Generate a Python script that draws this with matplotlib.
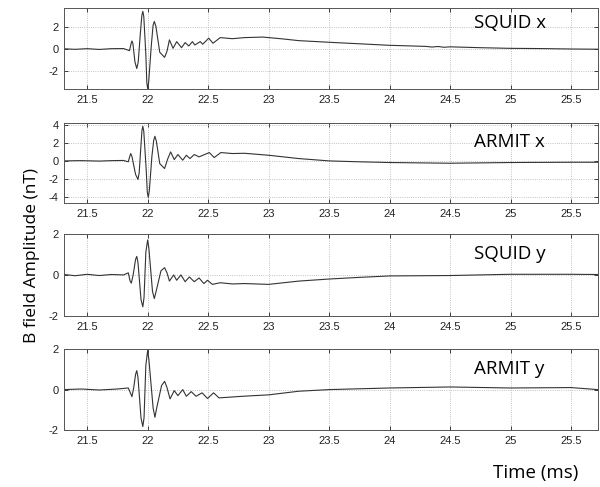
import matplotlib
matplotlib.use("Agg")
import matplotlib.pyplot as plt
from matplotlib.ticker import FormatStrFormatter

# time axis (ms) and B field traces (nT) for each sensor/component
t_squid_x = [21.31, 21.4, 21.5, 21.6, 21.7, 21.8, 21.85, 21.862, 21.87, 21.878,
             21.895, 21.91, 21.922, 21.94, 21.952, 21.96, 21.968, 21.985, 21.993, 22.0,
             22.008, 22.03, 22.045, 22.055, 22.068, 22.1, 22.14, 22.16, 22.18, 22.21,
             22.24, 22.28, 22.31, 22.34, 22.37, 22.39, 22.435, 22.455, 22.505, 22.54,
             22.60, 22.7, 22.8, 22.95, 23.1, 23.25, 23.5, 23.75, 24.0, 24.3,
             24.35, 24.4, 24.45, 24.5, 24.75, 25.0, 25.25, 25.5, 25.72]
b_squid_x = [0.02, -0.03, 0.03, -0.04, 0.03, 0.04, -0.15, 0.45, 0.74, 0.5,
             -1.2, -1.8, -1.2, 1.5, 3.1, 3.47, 3.0, -0.5, -3.1, -3.65,
             -3.1, 0.3, 2.2, 2.54, 2.1, -0.3, -0.77, -0.2, 0.84, 0.06,
             0.68, 0.12, 0.59, 0.28, 0.68, 0.37, 0.68, 0.44, 1.0, 0.53,
             1.05, 0.95, 1.05, 1.1, 0.95, 0.77, 0.62, 0.48, 0.34, 0.24,
             0.18, 0.23, 0.16, 0.2, 0.12, 0.06, 0.04, 0.0, -0.02]

t_armit_x = [21.31, 21.45, 21.6, 21.7, 21.8, 21.84, 21.852, 21.86, 21.87, 21.9,
             21.92, 21.93, 21.945, 21.953, 21.96, 21.968, 21.988, 21.997, 22.005, 22.014,
             22.035, 22.05, 22.06, 22.072, 22.1, 22.14, 22.165, 22.19, 22.22, 22.25,
             22.29, 22.32, 22.35, 22.385, 22.425, 22.51, 22.55, 22.605, 22.7, 22.8,
             23.0, 23.25, 23.5, 23.75, 24.0, 24.5, 25.0, 25.5, 25.72]
b_armit_x = [0.0, 0.03, -0.02, 0.03, 0.05, -0.1, 0.5, 0.82, 0.5, -1.5,
             -2.07, -1.3, 1.8, 3.4, 3.86, 3.3, -1.0, -3.5, -4.07, -3.3,
             0.5, 2.3, 2.74, 2.2, -0.3, -0.85, 0.2, 1.0, 0.15, 0.71,
             0.08, 0.63, 0.26, 0.71, 0.45, 0.93, 0.37, 0.93, 0.82, 0.85,
             0.63, 0.26, 0.0, -0.1, -0.18, -0.26, -0.18, -0.15, -0.15]

t_squid_y = [21.31, 21.4, 21.5, 21.6, 21.7, 21.8, 21.84, 21.855, 21.865, 21.88,
             21.9, 21.91, 21.92, 21.945, 21.96, 21.97, 21.985, 22.0, 22.01, 22.04,
             22.055, 22.07, 22.11, 22.14, 22.16, 22.18, 22.215, 22.24, 22.275, 22.31,
             22.345, 22.385, 22.425, 22.465, 22.495, 22.535, 22.6, 22.7, 22.8, 23.0,
             23.25, 23.5, 23.75, 24.0, 24.5, 25.0, 25.5, 25.72]
b_squid_y = [0.02, -0.04, 0.03, -0.03, 0.02, 0.0, 0.1, -0.3, -0.4, 0.0,
             0.75, 0.9, 0.6, -1.2, -1.55, -1.1, 1.1, 1.7, 1.3, -0.8,
             -1.15, -0.8, 0.2, 0.35, 0.1, -0.3, 0.0, -0.26, 0.0, -0.33,
             -0.1, -0.33, -0.15, -0.42, -0.26, -0.46, -0.38, -0.44, -0.42, -0.46,
             -0.3, -0.2, -0.12, -0.05, -0.03, 0.03, 0.03, 0.02]

t_armit_y = [21.31, 21.45, 21.6, 21.75, 21.84, 21.86, 21.87, 21.885, 21.9, 21.91,
             21.92, 21.945, 21.96, 21.97, 21.985, 22.0, 22.01, 22.045, 22.06, 22.075,
             22.115, 22.14, 22.16, 22.185, 22.22, 22.25, 22.29, 22.32, 22.36, 22.40,
             22.45, 22.495, 22.545, 22.59, 22.785, 23.0, 23.25, 23.5, 24.0, 24.5,
             25.0, 25.5, 25.72]
b_armit_y = [0.0, 0.03, -0.02, 0.03, 0.08, -0.2, -0.35, 0.1, 0.75, 0.94,
             0.6, -1.4, -1.83, -1.4, 1.2, 1.93, 1.5, -0.9, -1.37, -0.9,
             0.2, 0.41, 0.1, -0.46, -0.05, -0.3, 0.0, -0.33, -0.1, -0.33,
             -0.16, -0.44, -0.16, -0.41, -0.33, -0.26, -0.08, 0.0, 0.08, 0.13,
             0.08, 0.1, 0.0]

panel_names = ["SQUID x", "ARMIT x", "SQUID y", "ARMIT y"]
x_ticks = [21.5, 22, 22.5, 23, 23.5, 24, 24.5, 25, 25.5]
y_ticks = [[-2, 0, 2], [-4, -2, 0, 2, 4], [-2, 0, 2], [-2, 0, 2]]
y_limits = [(-3.7, 3.8), (-4.7, 4.2), (-2, 2), (-2, 2)]

traces = [(t_squid_x, b_squid_x), (t_armit_x, b_armit_x),
          (t_squid_y, b_squid_y), (t_armit_y, b_armit_y)]

# axes rectangles: left, bottom, width, height (figure fraction)
left, width = 0.107, 0.889
bottoms = [0.817, 0.583, 0.351, 0.117]
heights = [0.167, 0.164, 0.169, 0.166]
label_y = [0.815, 0.77, 0.756, 0.75]

fig = plt.figure(figsize=(6, 4.87), dpi=100)

for i, (t, b) in enumerate(traces):
    ax = fig.add_axes([left, bottoms[i], width, heights[i]])
    ax.plot(t, b, color="#333333", lw=0.8)
    ax.set_xlim(21.31, 25.72)
    ax.set_ylim(*y_limits[i])
    ax.set_xticks(x_ticks)
    ax.set_yticks(y_ticks[i])
    ax.xaxis.set_major_formatter(FormatStrFormatter("%g"))
    ax.yaxis.set_major_formatter(FormatStrFormatter("%g"))
    ax.tick_params(direction="in", length=3, width=0.6, top=True, right=True,
                   labelsize=8, colors="#222222", pad=4)
    for lab in ax.get_xticklabels() + ax.get_yticklabels():
        lab.set_family("Liberation Sans")
    ax.grid(True, linestyle=":", color="#b0b0b0", lw=0.6)
    for s in ax.spines.values():
        s.set_color("#555555")
        s.set_linewidth(0.7)
    ax.text(0.768, label_y[i], panel_names[i], transform=ax.transAxes,
            ha="left", va="center", fontsize=13.5, family="Open Sans", color="black")

fig.text(0.053, 0.475, "B field Amplitude (nT)", rotation=90, ha="center",
         va="center", fontsize=12.5, family="Open Sans")
fig.text(0.893, 0.029, "Time (ms)", ha="center", va="center",
         fontsize=13.5, family="Open Sans")

fig.savefig("out.png", dpi=100)
